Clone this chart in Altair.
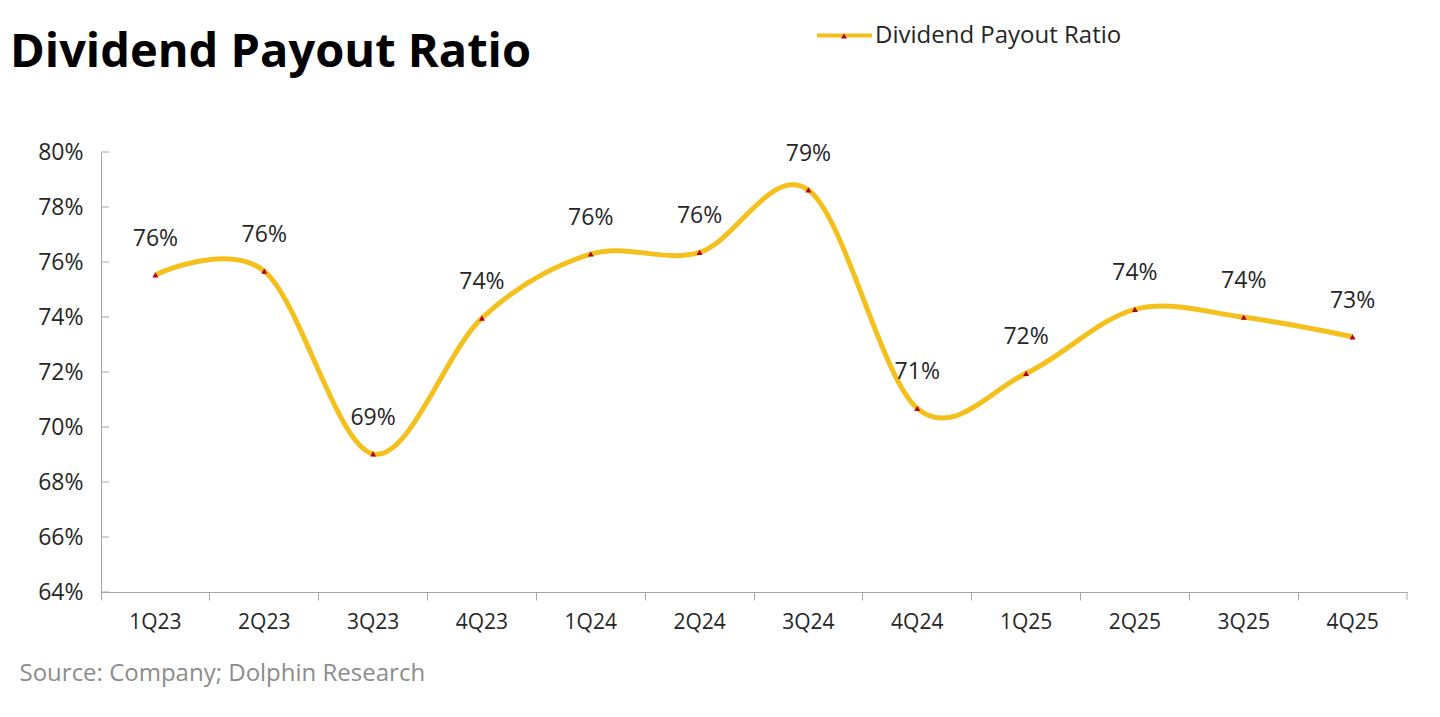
import altair as alt
import pandas as pd

quarters = ["1Q23", "2Q23", "3Q23", "4Q23", "1Q24", "2Q24",
            "3Q24", "4Q24", "1Q25", "2Q25", "3Q25", "4Q25"]
payout = [0.7553, 0.7567, 0.6902, 0.7396, 0.7629, 0.7635,
          0.7862, 0.7068, 0.7195, 0.7428, 0.7399, 0.7328]
series_name = "Dividend Payout Ratio"
chart_title = ["Dividend Payout Ratio"]
y_ticks = [0.64, 0.66, 0.68, 0.70, 0.72, 0.74, 0.76, 0.78, 0.80]

YELLOW = "#F4C01E"
RED = "#B0001A"
TEXT = "#262626"
AXIS = "#A6A6A6"
FONT = "Open Sans"

df = pd.DataFrame({"quarter": quarters, "ratio": payout,
                   "series": [series_name] * len(quarters),
                   "marker": ["marker"] * len(quarters)})
ticks_df = pd.DataFrame({"v": y_ticks})
end_df = pd.DataFrame({"e": [0]})
title_df = pd.DataFrame({"t": chart_title})

x_enc = alt.X("quarter:N", sort=quarters,
              scale=alt.Scale(type="band", paddingInner=0, paddingOuter=0),
              axis=alt.Axis(title="Source: Company; Dolphin Research",
                            titleAnchor="start", titleAlign="left",
                            titleX=-82, titleY=81, titleBaseline="middle",
                            titleFont=FONT, titleFontSize=24, titleFontWeight="normal",
                            titleColor="#8C8C8C",
                            labelAngle=0, labelFont=FONT, labelFontSize=21,
                            labelColor=TEXT, labelPadding=11,
                            domainColor=AXIS, tickColor=AXIS, tickSize=8,
                            bandPosition=0, grid=False))
y_enc = alt.Y("ratio:Q",
              scale=alt.Scale(domain=[0.64, 0.80], nice=False, zero=False),
              axis=alt.Axis(title=None, values=y_ticks, format=".0%",
                            ticks=False, labelPadding=18, labelFont=FONT,
                            labelFontSize=23, labelColor=TEXT,
                            domainColor=AXIS, grid=False))

base = alt.Chart(df).encode(x=x_enc, y=y_enc)

line = base.mark_line(interpolate="cardinal", strokeWidth=5).encode(
    color=alt.Color("series:N",
                    scale=alt.Scale(domain=[series_name], range=[YELLOW]),
                    legend=alt.Legend(title=None, orient="none", legendX=714, legendY=-146,
                                      symbolType="stroke", symbolSize=3025,
                                      symbolStrokeWidth=4, labelFont=FONT,
                                      labelFontSize=24, labelColor=TEXT,
                                      labelOffset=1, labelLimit=500, padding=0))
)

points = base.mark_point(filled=True, size=36, opacity=1, color=RED).encode(
    shape=alt.Shape("marker:N",
                    scale=alt.Scale(domain=["marker"], range=["triangle-up"]),
                    legend=alt.Legend(title=None, orient="none", legendX=738, legendY=-121,
                                      labelExpr="''", symbolSize=36,
                                      symbolFillColor=RED, symbolStrokeColor=RED,
                                      symbolStrokeWidth=0, labelFontSize=10, padding=0))
)

labels = base.mark_text(dy=-36, fontSize=23, font=FONT, color=TEXT,
                        baseline="middle").encode(
    text=alt.Text("ratio:Q", format=".0%")
)

yticks = alt.Chart(ticks_df).mark_rule(color=AXIS, strokeWidth=1).encode(
    y=alt.Y("v:Q"), x=alt.value(0), x2=alt.value(8)
)

end_tick = alt.Chart(end_df).mark_rule(color=AXIS, strokeWidth=1).encode(
    x=alt.value(1306), y=alt.value(440), y2=alt.value(448)
)

title = alt.Chart(title_df).mark_text(font=FONT, fontSize=47, fontWeight="bold",
                                      color="#000000", align="left",
                                      baseline="alphabetic").encode(
    text="t:N", x=alt.value(-91), y=alt.value(-85)
)

chart = alt.layer(yticks, end_tick, line, points, labels, title).properties(
    width=1306, height=440,
    autosize=alt.AutoSizeParams(type="none"),
    padding={"left": 93, "top": 144, "right": 25, "bottom": 110},
    background="white"
).configure_view(stroke="transparent", strokeWidth=0)

chart.save("out.html", embed_options={"renderer": "svg", "actions": False})
